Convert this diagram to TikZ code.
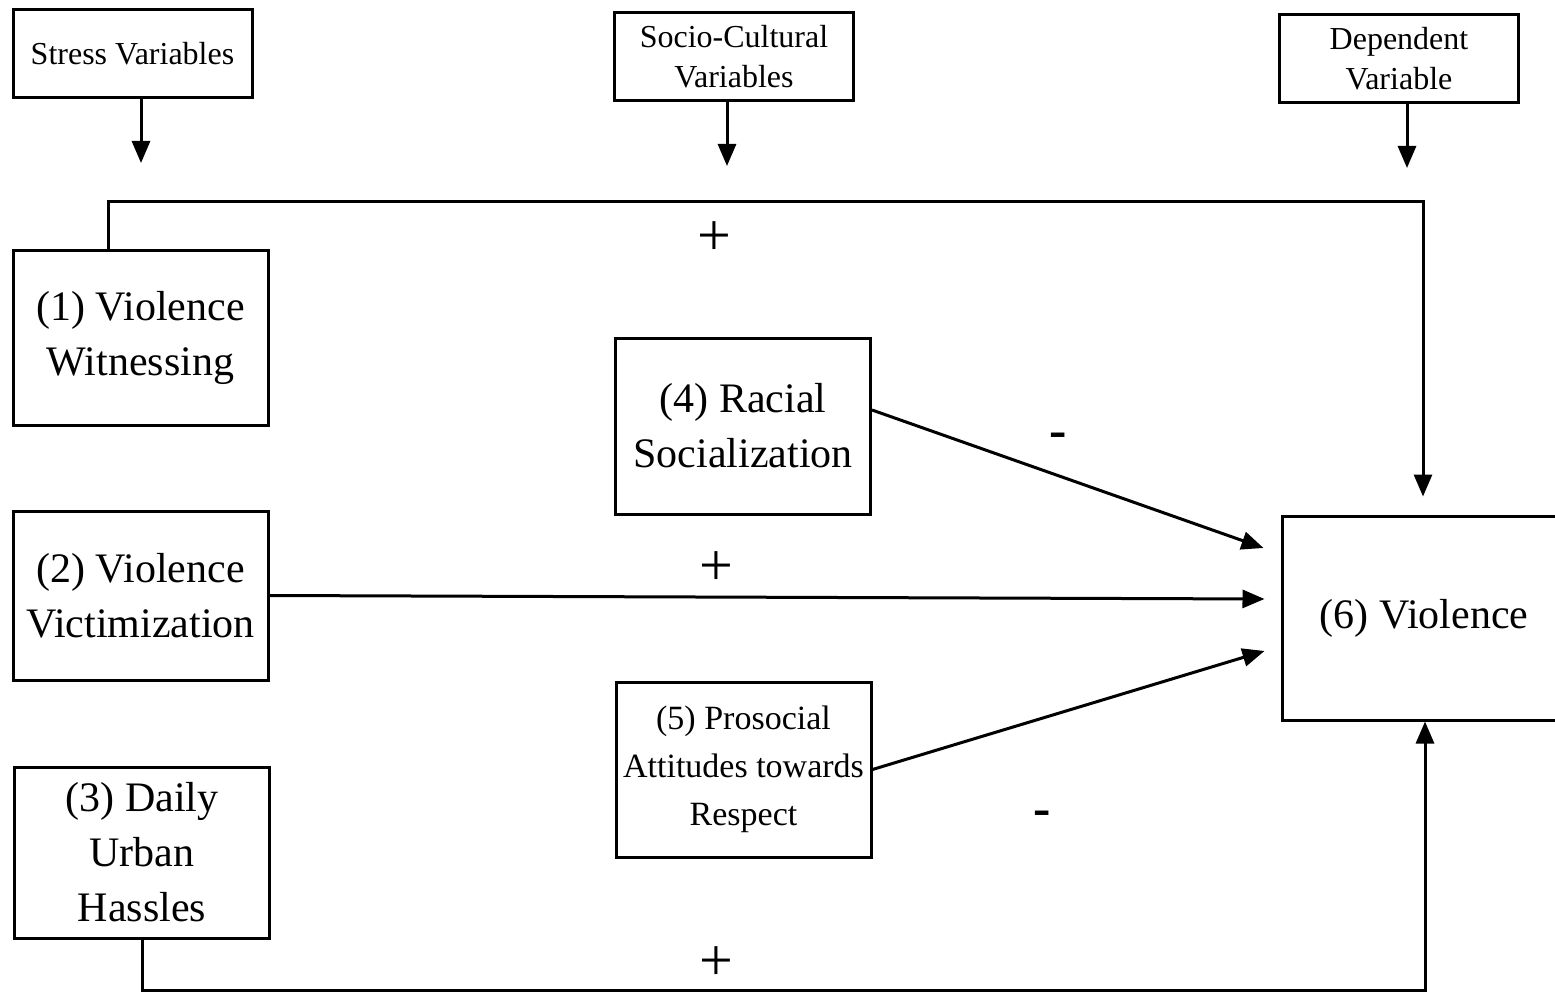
\documentclass[tikz,border=0pt]{standalone}
\usepackage{fontspec}
\setmainfont{Liberation Serif}
\usetikzlibrary{arrows.meta,calc}
\begin{document}
\begin{tikzpicture}[x=0.5pt,y=-0.5pt,
  line width=1.5pt,
  hdr/.style={draw,rectangle,inner sep=0pt,minimum width=119.5pt,minimum height=44pt,align=center,font=\fontsize{16}{20}\selectfont},
  bigbox/.style={draw,rectangle,inner sep=0pt,minimum width=127.5pt,minimum height=87pt,align=center,font=\fontsize{21}{27.5}\selectfont},
  arr/.style={-{Triangle[length=11pt,width=9pt]}},
  sign/.style={inner sep=0pt,font=\fontsize{30}{30}\selectfont},
  minus/.style={inner sep=0pt,font=\fontsize{26}{26}\selectfont\bfseries}]
\useasboundingbox (0,0) rectangle (1555,995);
% header boxes
\node[hdr] (sv) at (132.5,54) {Stress Variables};
\node[hdr] (sc) at (734,56.5) {Socio-Cultural\\Variables};
\node[hdr] (dv) at (1399,58.5) {Dependent\\Variable};
\coordinate (a1) at (141,163);
\coordinate (a2) at (727,166);
\coordinate (a3) at (1407,168);
\draw[arr] (sv.south -| a1) -- (a1);
\draw[arr] (sc.south -| a2) -- (a2);
\draw[arr] (dv.south -| a3) -- (a3);
% main boxes
\node[bigbox,minimum height=87.5pt] (b1) at (140.5,338) {(1) Violence\\Witnessing};
\node[bigbox,minimum height=84.5pt] (b2) at (140.5,595.5) {(2) Violence\\Victimization};
\node[bigbox,minimum height=85.5pt] (b3) at (142,852.5) {(3) Daily\\Urban\\Hassles};
\node[bigbox,minimum height=88pt] (b4) at (743,426) {(4) Racial\\Socialization};
\node[bigbox,minimum height=87.5pt,font=\fontsize{17}{24}\selectfont] (b5) at (743.5,769.5) {(5) Prosocial\\Attitudes towards\\Respect};
\node[bigbox,minimum width=149pt,minimum height=102pt] (b6) at (1431,618) {\hspace*{-7pt}(6) Violence};
% connectors
\coordinate (t1) at (108,202);
\coordinate (t2) at (1423,202);
\draw[arr,shorten >=9pt] (b1.north -| t1) -- (t1) -- (t2) -- (b6.north -| t2);
\draw[arr] ($(b4.east)+(0,-16)$) -- ($(b6.west)+(-17,-70)$);
\draw[arr] (b2.east) -- ($(b6.west)+(-16,-19)$);
\draw[arr] (b5.east) -- ($(b6.west)+(-16,33)$);
\coordinate (u1) at (142,990);
\coordinate (u2) at (1425,990);
\draw[arr] (b3.south) -- (u1) -- (u2) -- (b6.south -| u2);
% signs
\node[sign] (p1) at (714,239) {+};
\node[sign] (p2) at (716,569) {+};
\node[sign] (p3) at (716,964) {+};
\node[minus] (m1) at (1058,440) {-};
\node[minus] (m2) at (1042,818) {-};
\end{tikzpicture}
\end{document}
